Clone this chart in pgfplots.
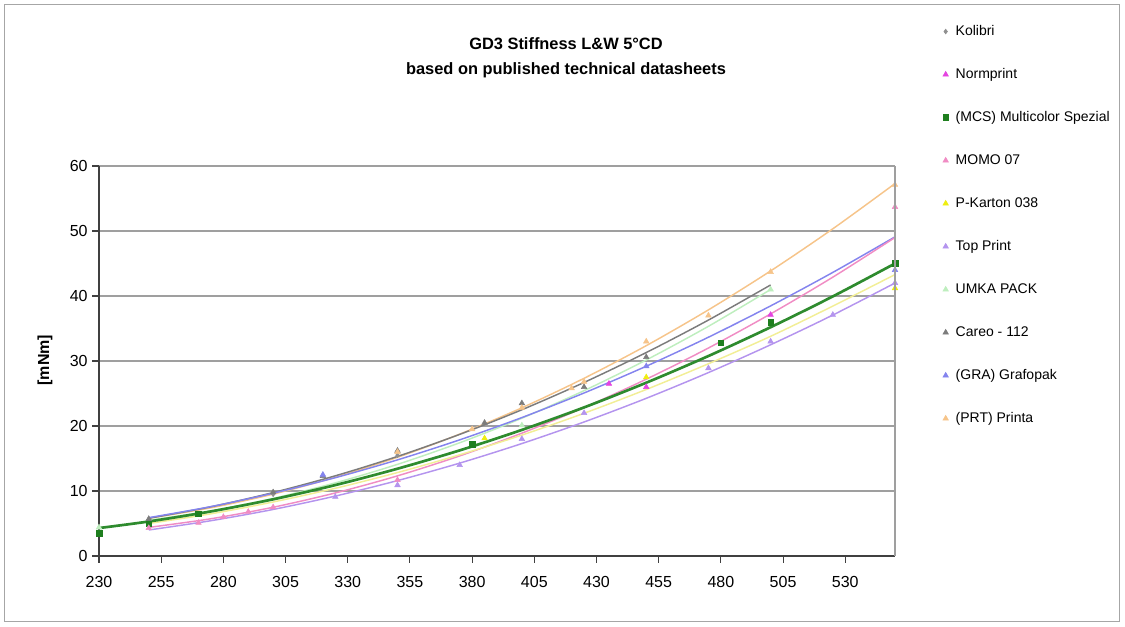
\documentclass[border=0pt]{standalone}
\usepackage{pgfplots}
\pgfplotsset{compat=1.18}
\usepackage{fontspec}
\setmainfont{Liberation Sans}

\definecolor{cKol}{HTML}{909090}
\definecolor{cNorm}{HTML}{E444E0}
\definecolor{cMCS}{HTML}{1F7F1F}
\definecolor{cMCSl}{HTML}{2E8B2E}
\definecolor{cMomo}{HTML}{F08CC4}
\definecolor{cPK}{HTML}{EEEE10}
\definecolor{cPKl}{HTML}{F2EE96}
\definecolor{cTop}{HTML}{B494EE}
\definecolor{cUmka}{HTML}{BEEEBE}
\definecolor{cCar}{HTML}{7C7C7C}
\definecolor{cGra}{HTML}{8484EE}
\definecolor{cPrt}{HTML}{F6C48A}

\pgfplotsset{
  mk/.style={only marks, mark size=2.4pt,
    legend image code/.code={\path[draw=none, fill=none] (0pt,0pt) -- (10pt,0pt);
      \draw[##1, /tikz/only marks] plot coordinates {(3.5pt,0pt)};}},
  tr/.style={no marks, smooth, line width=1.1pt, forget plot},
}

\begin{document}
\begin{tikzpicture}
\path[use as bounding box] (0,0) rectangle (843.75pt,469.5pt);
\draw[gray!70, line width=0.6pt] (3pt,3.75pt) rectangle (839.25pt,466.5pt);

\begin{axis}[
  at={(74.25pt,52.5pt)}, anchor=south west,
  scale only axis, width=597pt, height=292.5pt,
  xmin=230, xmax=550, ymin=0, ymax=60,
  xtick={230,255,...,530}, ytick={0,10,...,60},
  axis x line*=bottom, axis y line*=left,
  axis line style={draw=black!75, line width=0.8pt, -},
  tick style={draw=black!75, line width=0.8pt},
  tick align=outside, major tick length=5pt,
  ymajorgrids, grid style={draw=gray!75, line width=0.9pt},
  /pgf/number format/assume math mode=true,
  /pgf/number format/1000 sep={},
  ticklabel style={font=\fontsize{12}{14}\selectfont},
  xticklabel style={yshift=-6.5pt},
  clip mode=individual,
  legend style={at={(1.0575,1.366)}, anchor=north west, draw=none, fill=none,
    inner sep=0pt, row sep=20.25pt,
    font=\fontsize{10.5}{12}\selectfont,
    nodes={inner sep=1pt, text height=8pt, text depth=2pt}},
  legend cell align=left,
  after end axis/.code={\draw[gray!75, line width=0.9pt] (rel axis cs:1,0) -- (rel axis cs:1,1);},
]
% trendlines
\addplot[tr, cPrt] coordinates {(250,5.8)(275,7.42)(300,9.52)(325,12.12)(350,15.19)(375,18.75)(400,22.8)(425,27.34)(450,32.36)(475,37.87)(500,43.86)(525,50.34)(550,57.3)};
\addplot[tr, cCar] coordinates {(250,5.8)(275,7.57)(300,9.76)(325,12.34)(350,15.32)(375,18.71)(400,22.5)(425,26.7)(450,31.3)(475,36.3)(500,41.7)};
\addplot[tr, cUmka] coordinates {(250,5.5)(275,6.95)(300,8.86)(325,11.25)(350,14.1)(375,17.42)(400,21.2)(425,25.44)(450,30.16)(475,35.34)(500,41.0)};
\addplot[tr, cGra] coordinates {(250,5.9)(275,7.6)(300,9.66)(325,12.05)(350,14.79)(375,17.87)(400,21.3)(425,25.08)(450,29.2)(475,33.66)(500,38.48)(525,43.63)(550,49.1)};
\addplot[tr, cMomo] coordinates {(250,4.4)(275,5.73)(300,7.5)(325,9.7)(350,12.33)(375,15.4)(400,18.9)(425,22.84)(450,27.2)(475,32.0)(500,37.25)(525,42.9)(550,49.0)};
\addplot[tr, cPKl] coordinates {(250,5.0)(275,6.49)(300,8.31)(325,10.42)(350,12.84)(375,15.57)(400,18.6)(425,21.96)(450,25.62)(475,29.58)(500,33.8)(525,38.45)(550,43.3)};
\addplot[tr, cTop] coordinates {(250,4.0)(275,5.43)(300,7.16)(325,9.22)(350,11.6)(375,14.29)(400,17.3)(425,20.62)(450,24.26)(475,28.22)(500,32.5)(525,37.07)(550,42.0)};
\addplot[tr, cMCSl, line width=2pt] coordinates {(230,4.3)(250,5.31)(275,6.86)(300,8.72)(325,10.91)(350,13.43)(375,16.25)(400,19.4)(425,22.86)(450,26.66)(475,30.77)(500,35.2)(525,39.94)(550,45.0)};

% markers
\addplot[mk, mark=diamond*, mark size=1.8pt, color=cKol] coordinates {(250,5.6)(300,9.5)(350,15.5)};
\addlegendentry{Kolibri}
\addplot[mk, mark=triangle*, color=cNorm] coordinates {(435,26.5)(450,26.0)(500,37.1)};
\addlegendentry{Normprint}
\addplot[mk, mark=square*, mark size=2.1pt, color=cMCS] coordinates {(230,3.5)(250,5.0)(270,6.5)(380,17.2)(480,32.8)(500,36.0)(550,45.0)};
\addlegendentry{(MCS) Multicolor Spezial}
\addplot[mk, mark=triangle*, color=cMomo] coordinates {(250,4.3)(270,5.1)(280,6.0)(290,6.8)(300,7.5)(350,11.7)(550,53.7)};
\addlegendentry{MOMO 07}
\addplot[mk, mark=triangle*, color=cPK] coordinates {(385,18.1)(450,27.5)(550,41.2)};
\addlegendentry{P-Karton 038}
\addplot[mk, mark=triangle*, color=cTop] coordinates {(325,9.1)(350,10.9)(375,14.0)(400,18.0)(425,22.0)(475,28.9)(500,33.0)(525,37.1)(550,42.0)};
\addlegendentry{Top Print}
\addplot[mk, mark=triangle*, color=cUmka] coordinates {(230,4.4)(400,20.1)(500,41.0)};
\addlegendentry{UMKA PACK}
\addplot[mk, mark=triangle*, color=cCar] coordinates {(250,5.7)(300,9.8)(320,12.3)(350,16.2)(385,20.5)(400,23.5)(425,26.0)(450,30.6)};
\addlegendentry{Careo - 112}
\addplot[mk, mark=triangle*, color=cGra] coordinates {(320,12.5)(450,29.2)(550,44.0)};
\addlegendentry{(GRA) Grafopak}
\addplot[mk, mark=triangle*, color=cPrt] coordinates {(350,16.0)(380,19.5)(400,22.8)(420,25.8)(425,26.8)(450,33.0)(475,37.0)(500,43.7)(550,57.1)};
\addlegendentry{(PRT) Printa}
\end{axis}

\node[align=center, font=\bfseries\fontsize{12.3}{18.5}\selectfont] at (424.5pt,426pt)
  {GD3 Stiffness L\&W 5°CD\\based on published technical datasheets};
\node[rotate=90, font=\bfseries\fontsize{12}{14}\selectfont] at (33.75pt,199.5pt) {[mNm]};
\end{tikzpicture}
\end{document}
